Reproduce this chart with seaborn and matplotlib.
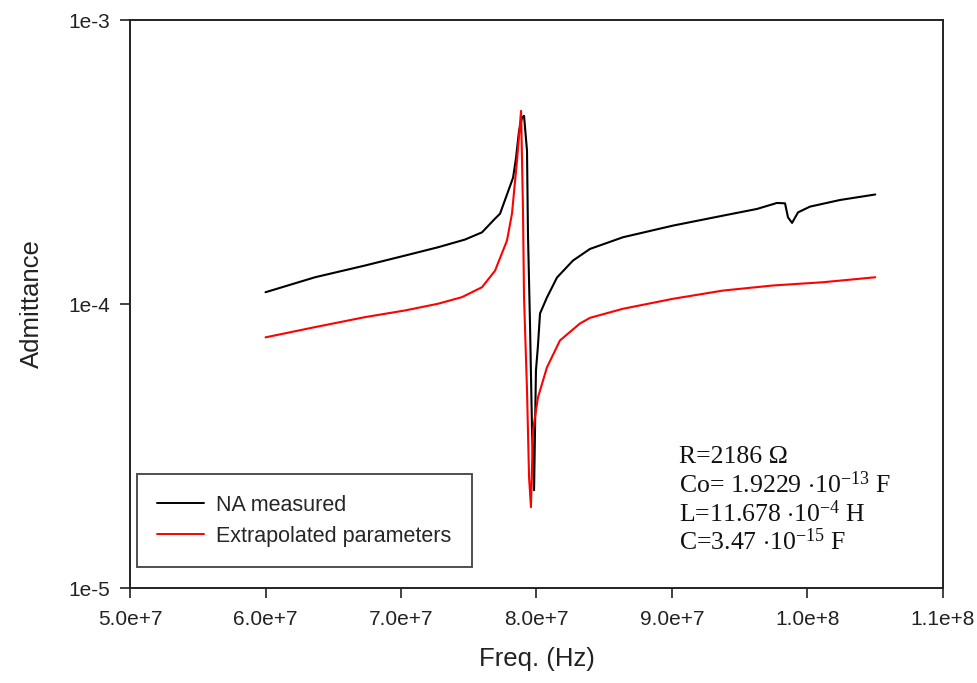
import numpy as np
import pandas as pd
import matplotlib
matplotlib.use("Agg")
import matplotlib.pyplot as plt
import seaborn as sns

# ---- data ----
freq_measured_mhz = [60.0, 63.65, 67.34, 70.30, 72.73, 74.72, 75.98, 76.94, 77.31, 78.27,
                     78.49, 78.71, 78.93, 79.08, 79.30, 79.37, 79.52, 79.67, 79.82, 79.96,
                     80.10, 80.26, 80.77, 81.51, 82.69, 83.95, 86.38, 90.07, 93.76, 96.27,
                     97.75, 98.34, 98.56, 98.86, 99.30, 100.18, 102.40, 105.0]
adm_measured_e4 = [1.100, 1.242, 1.366, 1.481, 1.584, 1.686, 1.788, 1.998, 2.080, 2.784,
                   3.273, 4.070, 4.524, 4.598, 3.463, 1.769, 0.854, 0.359, 0.221, 0.584,
                   0.705, 0.926, 1.054, 1.239, 1.422, 1.563, 1.718, 1.888, 2.047, 2.161,
                   2.269, 2.262, 2.019, 1.930, 2.102, 2.202, 2.324, 2.430]

freq_extrap_mhz = [60.0, 63.65, 67.34, 70.30, 72.73, 74.50, 75.98, 76.94, 77.82, 78.19,
                   78.56, 78.86, 79.00, 79.08, 79.30, 79.45, 79.59, 79.74, 80.11, 80.77,
                   81.73, 83.21, 83.95, 86.38, 90.07, 93.76, 97.45, 101.14, 105.0]
adm_extrap_e4 = [0.763, 0.829, 0.899, 0.949, 1.002, 1.057, 1.146, 1.310, 1.672, 2.080,
                 3.194, 4.787, 2.184, 1.054, 0.497, 0.2456, 0.1926, 0.359, 0.469, 0.598,
                 0.744, 0.854, 0.894, 0.962, 1.043, 1.115, 1.162, 1.193, 1.242]

series_names = ["NA measured", "Extrapolated parameters"]
series_colors = ["#000000", "#ff0000"]

x_ticks = [5.0e7, 6.0e7, 7.0e7, 8.0e7, 9.0e7, 1.0e8, 1.1e8]
x_tick_labels = ["5.0e+7", "6.0e+7", "7.0e+7", "8.0e+7", "9.0e+7", "1.0e+8", "1.1e+8"]
y_ticks = [1e-5, 1e-4, 1e-3]
y_tick_labels = ["1e-5", "1e-4", "1e-3"]

annotation_lines = [
    r"R=2186 Ω",
    r"Co= 1.9229 $\cdot$10$^{-13}$ F",
    r"L=11.678 $\cdot$10$^{-4}$ H",
    r"C=3.47 $\cdot$10$^{-15}$ F",
]

# ---- build table ----
df = pd.concat([
    pd.DataFrame({"Freq": np.array(freq_measured_mhz) * 1e6,
                  "Admittance": np.array(adm_measured_e4) * 1e-4,
                  "series": series_names[0]}),
    pd.DataFrame({"Freq": np.array(freq_extrap_mhz) * 1e6,
                  "Admittance": np.array(adm_extrap_e4) * 1e-4,
                  "series": series_names[1]}),
], ignore_index=True)

sns.set_style("ticks")
plt.rcParams["font.family"] = ["Liberation Sans", "DejaVu Sans"]
plt.rcParams["mathtext.fontset"] = "custom"
plt.rcParams["mathtext.rm"] = "Liberation Serif"
plt.rcParams["mathtext.it"] = "Liberation Serif:italic"
plt.rcParams["mathtext.bf"] = "Liberation Serif:bold"

fig = plt.figure(figsize=(9.78, 6.83), dpi=100)
ax = fig.add_axes([130 / 978, 1 - 588 / 683, 813 / 978, 568 / 683])

sns.lineplot(data=df, x="Freq", y="Admittance", hue="series",
             palette=dict(zip(series_names, series_colors)),
             sort=False, estimator=None, linewidth=1.5, ax=ax)

ax.set_yscale("log")
ax.set_xlim(5.0e7, 1.1e8)
ax.set_ylim(1e-5, 1e-3)
ax.set_xticks(x_ticks)
ax.set_xticklabels(x_tick_labels)
ax.set_yticks(y_ticks)
ax.set_yticklabels(y_tick_labels)
ax.yaxis.set_minor_locator(matplotlib.ticker.NullLocator())
ax.tick_params(axis="both", direction="out", length=7, width=1.2,
               labelsize=15, colors="#222222")
ax.tick_params(axis="x", pad=9)
ax.tick_params(axis="y", pad=7)

for s in ax.spines.values():
    s.set_visible(True)
    s.set_linewidth(1.4)
    s.set_color("#222222")

ax.set_xlabel("Freq. (Hz)", fontsize=18.5, color="#222222", labelpad=13)
ax.set_ylabel("Admittance", fontsize=18.5, color="#222222", labelpad=18)

leg = ax.legend(loc="lower left", bbox_to_anchor=(0.008, 0.037), fontsize=15.5,
                frameon=True, fancybox=False, handlelength=2.2, handletextpad=0.55,
                borderpad=0.95, labelspacing=0.45, borderaxespad=0.0)
leg.get_frame().set_edgecolor("#222222")
leg.get_frame().set_linewidth(1.4)
for line in leg.get_lines():
    line.set_linewidth(1.4)

baselines = [0.2201, 0.1678, 0.1167, 0.0669]
for txt, yb in zip(annotation_lines, baselines):
    ax.text(0.675, yb, txt, transform=ax.transAxes, fontsize=18.5,
            family=["Liberation Serif", "DejaVu Serif"], va="baseline", ha="left",
            color="#111111")

fig.savefig("out.png", dpi=100, facecolor="white")
